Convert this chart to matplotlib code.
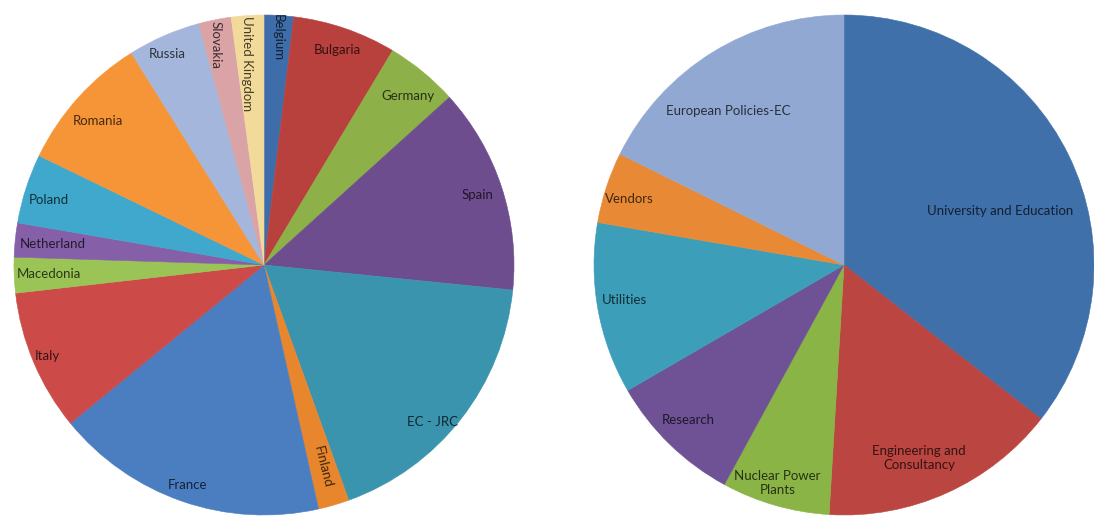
import numpy as np
import matplotlib.pyplot as plt
import matplotlib.colors as mcolors

# participants by country (share of total, %)
countries = ["Belgium", "Bulgaria", "Germany", "Spain", "EC - JRC", "Finland",
             "France", "Italy", "Macedonia", "Netherland", "Poland", "Romania",
             "Russia", "Slovakia", "United Kingdom"]
country_share = [1.9, 6.7, 4.7, 13.3, 17.9, 2.0, 17.6, 9.1, 2.3, 2.2, 4.5,
                 8.9, 4.7, 2.1, 2.1]

# participants by sector (share of total, %)
sectors = ["University and Education", "Engineering and\nConsultancy",
           "Nuclear Power\nPlants", "Research", "Utilities", "Vendors",
           "European Policies-EC"]
sector_share = [35.6, 15.4, 7.0, 8.7, 11.1, 4.6, 17.7]

country_colors = ["#3f6daa", "#b8413d", "#8db048", "#6e4d8e", "#3a94ae",
                  "#e8862e", "#4a7ec0", "#cc4a48", "#9bc456", "#8560a8",
                  "#3fa8cc", "#f69538", "#a4b6db", "#daa3a6", "#f2db9a"]
sector_colors = ["#4070aa", "#bb4540", "#8ab446", "#6f5295", "#3d9eba",
                 "#e88a35", "#91a9d2"]

# label placement: radius (fraction of pie radius), clockwise angle nudge (deg),
# text rotation
country_r = [0.91, 0.91, 0.89, 0.90, 0.92, 0.84, 0.93, 0.94, 0.86, 0.85,
             0.90, 0.88, 0.93, 0.90, 0.81]
country_nudge = [0, 0, 1, 0, 5, 0, 0, 0, 0, 0, -1, -1, -1, -1, -1]
country_rot = [-90, 0, 0, 0, 0, -76, 0, 0, 0, 0, 0, 0, 0, -90, -90]

sector_r = [0.66, 0.83, 0.91, 0.88, 0.89, 0.90, 0.77]
sector_nudge = [7, 3, 1, 1, 1, -1, -5]
sector_rot = [0, 0, 0, 0, 0, 0, 0]

W, H = 1094, 517
R = 250


def text_color(c):
    rgb = np.array(mcolors.to_rgb(c))
    return tuple(rgb * 0.28)


def draw_pie(ax, values, labels, colors, radii, nudges, rots):
    wedges, _ = ax.pie(values, colors=colors, startangle=90,
                       counterclock=False, radius=1.0,
                       wedgeprops=dict(linewidth=0.4))
    for w, c in zip(wedges, colors):
        w.set_edgecolor(c)
    for w, lab, c, r, dn, rot in zip(wedges, labels, colors, radii, nudges, rots):
        # nudges run clockwise, matplotlib angles run counter-clockwise
        mid = np.deg2rad((w.theta1 + w.theta2) / 2 - dn)
        ax.text(r * np.cos(mid), r * np.sin(mid), lab, ha="center",
                va="center", rotation=rot, fontsize=9.5, family="Lato",
                color=text_color(c), linespacing=1.2)
    ax.set_xlim(-1, 1)
    ax.set_ylim(-1, 1)
    ax.set_aspect("equal")
    ax.axis("off")


fig = plt.figure(figsize=(W / 100, H / 100), dpi=100)
ax1 = fig.add_axes([14 / W, 2 / H, 2 * R / W, 2 * R / H])
ax2 = fig.add_axes([594 / W, 2 / H, 2 * R / W, 2 * R / H])

draw_pie(ax1, country_share, countries, country_colors,
         country_r, country_nudge, country_rot)
draw_pie(ax2, sector_share, sectors, sector_colors,
         sector_r, sector_nudge, sector_rot)

fig.savefig("out.png", dpi=100)
